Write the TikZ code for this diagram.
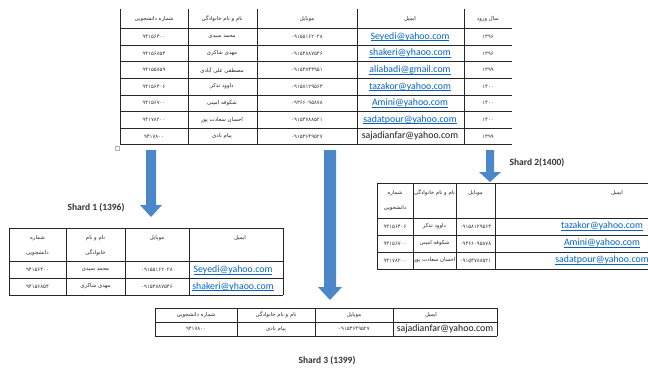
\documentclass[tikz,border=0pt]{standalone}
\usepackage{fontspec}
\setmainfont{Carlito}
\newfontfamily\fafont[Script=Arabic]{DejaVu Sans}
\TeXXeTstate=1
\definecolor{shardblue}{RGB}{76,136,201}
\definecolor{linkblue}{RGB}{5,99,193}
\tikzstyle{cell}=[inner sep=0pt,outer sep=0pt]
\tikzstyle{fa}=[cell,text=black!85,font=\fafont\fontsize{5.4}{6}\selectfont]
\tikzstyle{num}=[cell,text=black!80,font=\fafont\fontsize{5.3}{6}\selectfont]
\tikzstyle{mail}=[cell,text=linkblue,font=\fontsize{9.8}{11}\selectfont]
\tikzstyle{plainmail}=[cell,text=black!90,font=\fontsize{9.8}{11}\selectfont]
\tikzstyle{rule}=[line width=0.6pt,black!85]
\tikzstyle{shardlabel}=[cell,text=black!80,font=\bfseries\fontsize{9.5}{11}\selectfont]
\newcommand{\fa}[1]{\beginR #1\endR}
\newcommand{\mailul}[1]{\underline{\smash{#1}}\vphantom{#1}}

\begin{document}
\begin{tikzpicture}[x=1pt,y=-1pt]
		\fill[white] (0,0) rectangle (648,370);
		\useasboundingbox (0,0) rectangle (648,370);

		% main table (its top is cut off)
		\foreach \x in {120,188,257,357,464} {\draw[rule] (\x,9) -- (\x,144.7);}
		\foreach \y in {28.5,45.1,61.7,78.3,94.9,111.5,128.1,144.7} {\draw[rule] (120,\y) -- (512,\y);}
		\draw[gray!60] (115,146) rectangle (119,150);
		\foreach \x / \t [count=\c] in {154/شماره دانشجویی,222/نام و نام خانوادگی,307/موبایل,410/ایمیل,488/سال ورود} {\node[fa] (top-h\c) at (\x,19) {\fa{\t}};}
		\foreach \sn / \nm / \mb / \yr [count=\i] in {۹۴۱۵۶۴۰۰/محمد سیدی/۰۹۱۵۵۱۶۲۰۲۸/۱۳۹۶,۹۴۱۵۶۸۵۴/مهدی شاکری/۰۹۱۵۳۸۸۷۵۴۶/۱۳۹۶,۹۴۱۵۵۷۵۹/مصطفی علی آبادی/۰۹۱۵۳۸۴۳۹۵۱/۱۳۹۹,۹۴۱۵۶۴۰۶/داوود تذکر/۰۹۱۵۸۱۲۹۵۶۳/۱۴۰۰,۹۴۱۵۶۷۰۰/شکوفه امینی/۰۹۳۶۶۰۹۵۸۷۸/۱۴۰۰,۹۴۱۷۸۲۰۰/احسان سعادت پور/۰۹۱۵۳۷۸۸۵۲۱/۱۴۰۰,۹۴۱۷۸۰۰/پیام نادی/۰۹۱۵۳۶۴۹۵۲۷/۱۳۹۹} {
			\node[num] (top-sn-\i) at (154,{20.2+16.6*\i}) {\sn};
			\node[fa] (top-nm-\i) at (222,{20.2+16.6*\i}) {\fa{\nm}};
			\node[num] (top-mb-\i) at (307,{20.2+16.6*\i}) {\mb};
			\node[num] (top-yr-\i) at (488,{20.2+16.6*\i}) {\yr};
		}
		\foreach \ml [count=\i] in {Seyedi@yahoo.com,shakeri@yhaoo.com,aliabadi@gmail.com,tazakor@yahoo.com,Amini@yahoo.com,sadatpour@yahoo.com} {\node[mail] (top-ml-\i) at (410,{20.2+16.6*\i}) {\mailul{\ml}};}
		\node[plainmail] (top-ml-7) at (410,136.4) {sajadianfar@yahoo.com};

		% the three block arrows
		\foreach \x / \s / \t / \w / \h in {151/205/217/5/11,330/287/300/6/12,490/172/182/4/11} {
			\fill[shardblue] ({\x-\w},150) -- ({\x+\w},150) -- ({\x+\w},\s) -- ({\x+\h},\s) -- (\x,\t) -- ({\x-\h},\s) -- ({\x-\w},\s) -- cycle;
		}

		% shard 1
		\node[shardlabel] (shard1) at (96,208) {Shard 1 (1396)};
		\foreach \x in {9,66,125,189,283} {\draw[rule] (\x,228.3) -- (\x,295);}
		\foreach \y in {228.3,261.7,278.3,295} {\draw[rule] (9,\y) -- (283,\y);}
		\node[fa] (s1-h1a) at (37.5,238) {\fa{شماره}};
		\node[fa] (s1-h1b) at (37.5,253) {\fa{دانشجویی}};
		\node[fa] (s1-h2a) at (95.5,238) {\fa{نام و نام}};
		\node[fa] (s1-h2b) at (95.5,253) {\fa{خانوادگی}};
		\node[fa] (s1-h3) at (157,238) {\fa{موبایل}};
		\node[fa] (s1-h4) at (240,238) {\fa{ایمیل}};
		\foreach \sn / \nm / \mb / \ml [count=\i] in {۹۴۱۵۶۴۰۰/محمد سیدی/۰۹۱۵۵۱۶۲۰۲۸/Seyedi@yahoo.com,۹۴۱۵۶۸۵۴/مهدی شاکری/۰۹۱۵۳۸۸۷۵۴۶/shakeri@yhaoo.com} {
			\node[num] (s1-sn-\i) at (37.5,{253.4+16.6*\i}) {\sn};
			\node[fa] (s1-nm-\i) at (95.5,{253.4+16.6*\i}) {\fa{\nm}};
			\node[num] (s1-mb-\i) at (157,{253.4+16.6*\i}) {\mb};
			\node[mail] (s1-ml-\i) at (233,{253.4+16.6*\i}) {\mailul{\ml}};
		}

		% shard 2
		\node[shardlabel] (shard2) at (537,163) {Shard 2(1400)};
		\foreach \x in {377,413,456,495} {\draw[rule] (\x,183) -- (\x,269);}
		\foreach \y in {183,218,235,252,269} {\draw[rule] (377,\y) -- (648,\y);}
		\node[fa] (s2-h1a) at (395,193) {\fa{شماره}};
		\node[fa] (s2-h1b) at (395,208) {\fa{دانشجویی}};
		\node[fa] (s2-h2) at (434.5,193) {\fa{نام و نام خانوادگی}};
		\node[fa] (s2-h3) at (475.5,193) {\fa{موبایل}};
		\node[fa] (s2-h4) at (617,193) {\fa{ایمیل}};
		\foreach \sn / \nm / \mb / \ml [count=\i] in {۹۴۱۵۶۴۰۶/داوود تذکر/۰۹۱۵۸۱۲۹۵۶۳/tazakor@yahoo.com,۹۴۱۵۶۷۰۰/شکوفه امینی/۰۹۳۶۶۰۹۵۸۷۸/Amini@yahoo.com,۹۴۱۷۸۲۰۰/احسان سعادت پور/۰۹۱۵۳۷۸۸۵۲۱/sadatpour@yahoo.com} {
			\node[num] (s2-sn-\i) at (395,{209.5+17*\i}) {\sn};
			\node[fa] (s2-nm-\i) at (434.5,{209.5+17*\i}) {\fa{\nm}};
			\node[num] (s2-mb-\i) at (475.5,{209.5+17*\i}) {\mb};
			\node[mail] (s2-ml-\i) at (602,{209.5+17*\i}) {\mailul{\ml}};
		}

		% shard 3
		\foreach \x in {155,237,315,393,497} {\draw[rule] (\x,308) -- (\x,336);}
		\foreach \y in {308,322,336} {\draw[rule] (155,\y) -- (497,\y);}
		\foreach \x / \t [count=\c] in {196/شماره دانشجویی,276/نام و نام خانوادگی,354/موبایل,431/ایمیل} {\node[fa] (s3-h\c) at (\x,315) {\fa{\t}};}
		\node[num] (s3-sn-1) at (196,329) {۹۴۱۷۸۰۰};
		\node[fa] (s3-nm-1) at (276,329) {\fa{پیام نادی}};
		\node[num] (s3-mb-1) at (354,329) {۰۹۱۵۳۶۴۹۵۲۷};
		\node[plainmail] (s3-ml-1) at (445,329) {sajadianfar@yahoo.com};
		\node[shardlabel] (shard3) at (327,361) {Shard 3 (1399)};
	\end{tikzpicture}
\end{document}
